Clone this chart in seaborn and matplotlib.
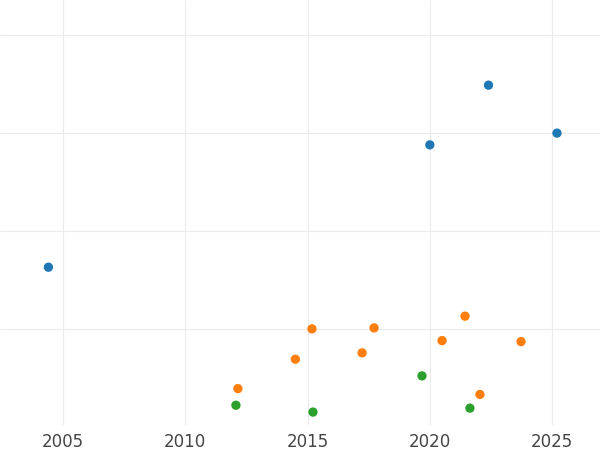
import matplotlib
matplotlib.use("Agg")
import matplotlib.pyplot as plt
import seaborn as sns
import pandas as pd

blue_x = [2004.4, 2020.0, 2022.4, 2025.2]
blue_y = [1.63, 2.88, 3.49, 3.00]
orange_x = [2012.15, 2014.5, 2015.18, 2017.23, 2017.72, 2020.5, 2021.44, 2022.05, 2023.73]
orange_y = [0.39, 0.69, 1.00, 0.755, 1.01, 0.88, 1.13, 0.33, 0.87]
green_x = [2012.07, 2015.22, 2019.68, 2021.64]
green_y = [0.22, 0.15, 0.52, 0.19]

df = pd.DataFrame({
    "year": blue_x + orange_x + green_x,
    "value": blue_y + orange_y + green_y,
    "group": ["a"] * len(blue_x) + ["b"] * len(orange_x) + ["c"] * len(green_x),
})

sns.set_style("white")
fig = plt.figure(figsize=(6, 4.5), dpi=100)
ax = fig.add_axes([0, 0.056, 1, 0.944])
sns.scatterplot(data=df, x="year", y="value", hue="group",
                palette=["#1f77b4", "#ff7f0e", "#2ca02c"],
                s=45, edgecolor="none", legend=False, ax=ax, zorder=3)
ax.set_xlim(2002.42, 2026.96)
ax.set_ylim(0.02, 4.36)
ax.set_xticks([2005, 2010, 2015, 2020, 2025])
ax.set_yticks([1, 2, 3, 4])
ax.set_yticklabels([])
ax.grid(True, color="#ebebeb", linewidth=0.8)
ax.tick_params(axis="x", length=0, labelsize=12, colors="#444444", pad=6)
ax.tick_params(axis="y", length=0)
ax.set_xlabel("")
ax.set_ylabel("")
for s in ax.spines.values():
    s.set_visible(False)
fig.savefig("out.png")
